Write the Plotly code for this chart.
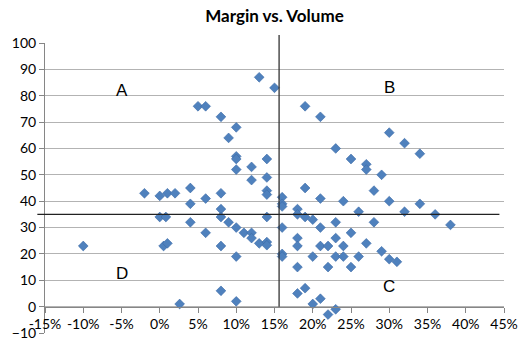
import plotly.graph_objects as go

# Data: volume growth (%) vs margin
volume = [-10, -2, 0, 1, 2, 4, 4, 4, 0, 0.8, 0.5, 1, 2.6,
          5, 6, 8, 10, 9, 13, 15, 10, 10, 10, 12, 12, 14, 14, 14, 14, 14,
          6, 8, 8, 8, 9, 10, 6, 11, 12, 12, 13, 14, 14, 8, 10, 8, 10,
          16, 16, 16, 16, 16, 16, 18, 18, 19, 20, 21, 23, 26, 25, 28,
          18, 18, 21, 22, 23, 24, 27, 29, 20, 23, 24, 26, 18, 22, 25,
          19, 18, 21, 20, 23, 22, 30, 31,
          19, 21, 23, 25, 27, 27, 29, 19, 28, 21, 24,
          30, 32, 34, 30, 34, 32, 36, 38]
margin = [23, 43, 42, 43, 43, 45, 39, 32, 34, 34, 23, 24, 1,
          76, 76, 72, 68, 64, 87, 83, 57, 56, 52, 53, 48, 56, 49, 44, 42.5, 34,
          41, 43, 37, 34, 32, 30, 28, 28, 28, 26, 24, 24.5, 23.3, 23, 19, 6, 2,
          41.5, 39, 38, 30, 20, 19, 37, 35, 34, 33, 30, 32, 36, 28, 32,
          26, 23, 23, 23, 26, 23, 24, 21, 19, 19, 19, 19, 15, 15, 15,
          7, 5, 3, 1, -1, -3, 18, 17,
          76, 72, 60, 56, 54, 52, 50, 45, 44, 41, 40,
          66, 62, 58, 40, 39, 36, 35, 31]

x_ticks = [-15, -10, -5, 0, 5, 10, 15, 20, 25, 30, 35, 40, 45]
x_tick_labels = [f"{v}%" for v in x_ticks]
y_ticks = [-10, 0, 10, 20, 30, 40, 50, 60, 70, 80, 90, 100]

X_RANGE = [-15, 45]
Y_RANGE = [-10, 100]
X_REF = 15.6          # vertical divider (volume)
Y_REF = 35            # horizontal divider (margin)
V_LINE_TOP = 103
H_LINE_SPAN = [-16, 44.4]

quad_labels = ["A", "B", "C", "D"]
quad_x = [-5, 30, 30, -5]
quad_y = [82, 83, 7.5, 12.5]


def px_x(v):
    return (v - X_RANGE[0]) / (X_RANGE[1] - X_RANGE[0])


def px_y(v):
    return (v - Y_RANGE[0]) / (Y_RANGE[1] - Y_RANGE[0])


fig = go.Figure()
fig.add_trace(go.Scatter(
    x=volume, y=margin, mode="markers",
    marker=dict(symbol="diamond", size=7.5, color="#4F81BD",
                line=dict(color="#3A6AA6", width=0.6)),
    showlegend=False, cliponaxis=False,
))

fig.update_layout(
    width=530, height=353,
    margin=dict(l=37, r=17, t=43, b=18),
    paper_bgcolor="white", plot_bgcolor="white",
    title=dict(text="<b>Margin vs. Volume</b>", x=0.5, xref="paper",
               y=0.955, yref="container", xanchor="center", yanchor="middle",
               font=dict(family="Lato", size=17, color="black")),
    font=dict(family="Lato", size=14, color="black"),
    xaxis=dict(range=X_RANGE, tickvals=x_ticks, ticktext=x_tick_labels,
               showgrid=False, zeroline=False, showline=True,
               linecolor="#868686", linewidth=1,
               ticks="outside", ticklen=5, tickcolor="#868686",
               anchor="free", position=px_y(0),
               tickfont=dict(family="Lato", size=14, color="black")),
    yaxis=dict(range=Y_RANGE, tickvals=y_ticks,
               showgrid=True, gridcolor="#B3B3B3", gridwidth=1,
               zeroline=False, showline=True,
               linecolor="#868686", linewidth=1,
               ticks="outside", ticklen=5, tickcolor="#868686",
               tickfont=dict(family="Lato", size=14, color="black")),
)

# Quadrant divider lines
fig.add_shape(type="line", xref="paper", yref="paper",
              x0=px_x(X_REF), x1=px_x(X_REF),
              y0=px_y(0), y1=px_y(V_LINE_TOP),
              line=dict(color="#333333", width=1.3))
fig.add_shape(type="line", xref="paper", yref="paper",
              x0=px_x(H_LINE_SPAN[0]), x1=px_x(H_LINE_SPAN[1]),
              y0=px_y(Y_REF), y1=px_y(Y_REF),
              line=dict(color="#222222", width=1.3))

for lab, qx, qy in zip(quad_labels, quad_x, quad_y):
    fig.add_annotation(x=qx, y=qy, text=lab, showarrow=False,
                       font=dict(family="Liberation Sans", size=17, color="black"))

fig.write_html("out.html")
